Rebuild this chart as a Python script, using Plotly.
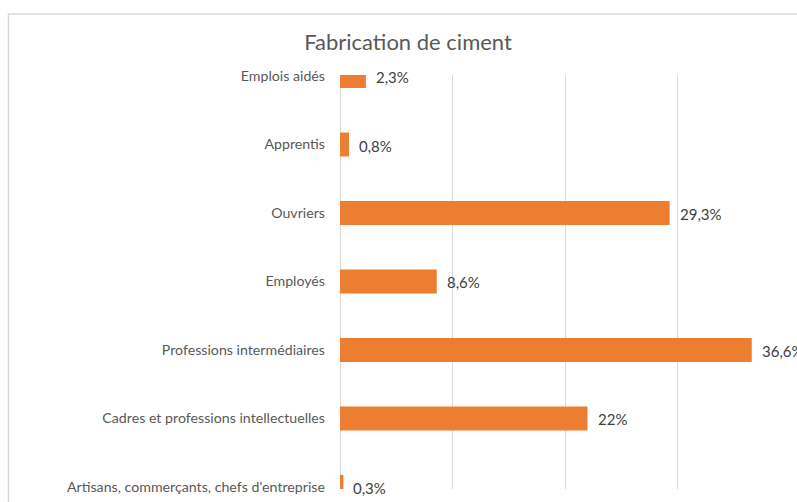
import plotly.graph_objects as go

categories = ["Artisans, commerçants, chefs d'entreprise",
              "Cadres et professions intellectuelles",
              "Professions intermédiaires",
              "Employés",
              "Ouvriers",
              "Apprentis",
              "Emplois aidés"]
values = [0.3, 22, 36.6, 8.6, 29.3, 0.8, 2.3]
labels = ["0,3%", "22%", "36,6%", "8,6%", "29,3%", "0,8%", "2,3%"]

W, H = 797, 502
L, R, T, B = 340, 7, 75, 13
pw, ph = W - L - R, H - T - B

fig = go.Figure()
fig.add_trace(go.Bar(
    y=categories, x=values, orientation="h",
    marker=dict(color="#ED7D31", line=dict(width=0)),
    width=0.35, hoverinfo="skip",
))

annotations = [dict(x=v, y=c, xref="x", yref="y", text=t, showarrow=False,
                    xanchor="left", yanchor="middle", xshift=8, yshift=-1,
                    font=dict(family="Lato", size=15, color="#404040"))
               for c, v, t in zip(categories, values, labels)]

fig.update_layout(
    width=W, height=H,
    margin=dict(l=L, r=R, t=T, b=B, pad=0),
    paper_bgcolor="white", plot_bgcolor="white",
    showlegend=False,
    font=dict(family="Lato", color="#595959"),
    title=dict(text="Fabrication de ciment", x=(408) / W, xanchor="center",
               y=1 - 42 / H, yanchor="middle",
               font=dict(family="Lato", size=22, color="#595959")),
    xaxis=dict(range=[0, 40], dtick=10, showgrid=True, gridcolor="#d9d9d9",
               gridwidth=1, zeroline=True, zerolinecolor="#d9d9d9",
               zerolinewidth=1, showticklabels=False, showline=False),
    yaxis=dict(range=[-0.03, 6.015], showgrid=False, zeroline=False,
               showline=False, ticks="", ticklabelstandoff=14,
               tickfont=dict(family="Lato", size=14.2, color="#595959")),
    annotations=annotations,
    shapes=[dict(type="rect", xref="paper", yref="paper",
                 x0=(8.5 - L) / pw, x1=(W + 10 - L) / pw,
                 y0=-(B + 10) / ph, y1=(H - 14 - B) / ph,
                 line=dict(color="#d9d9d9", width=1.5),
                 fillcolor="rgba(0,0,0,0)", layer="below")],
)

fig.write_html("out.html")
